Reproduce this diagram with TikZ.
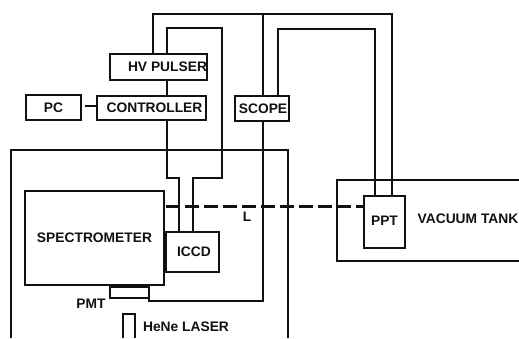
\documentclass[tikz,border=0pt]{standalone}
\usepackage{fontspec}
\setmainfont{Liberation Sans}
\tikzset{
  box/.style={draw=ink,line width=2.4pt,fill=none,inner sep=0pt,font=\bfseries\fontsize{13.8}{15}\selectfont,text=ink},
  wire/.style={draw=ink,line width=2.4pt,line join=miter},
  lbl/.style={inner sep=0pt,font=\bfseries\fontsize{13.8}{15}\selectfont,text=ink},
  beam/.style={draw=ink,line width=3pt,dash pattern=on 14pt off 5pt}
}
\definecolor{ink}{HTML}{111111}
\begin{document}
\begin{tikzpicture}[x=1pt,y=-1pt]
\useasboundingbox[fill=white] (0,0) rectangle (519,338);
% boxes
\node[box,minimum width=95pt,minimum height=26pt] (hv) at (158.5,67) {\hspace*{18pt}HV PULSER};
\node[box,minimum width=109pt,minimum height=24pt] (ctrl) at (151.5,108) {\hspace*{6pt}\raisebox{-1pt}{CONTROLLER}};
\node[box,minimum width=55pt,minimum height=25pt] (pc) at (53.5,107.5) {\raisebox{-1pt}{PC}};
\node[box,minimum width=54pt,minimum height=25pt] (scope) at (262,108.5) {\hspace*{2pt}\raisebox{-1pt}{SCOPE}};
\node[box,minimum width=139pt,minimum height=94pt] (spec) at (94.5,238) {SPECTROMETER};
\node[box,minimum width=53pt,minimum height=40pt] (iccd) at (192.5,252) {\hspace*{3pt}\raisebox{-1pt}{ICCD}};
\node[box,minimum width=39pt,minimum height=11pt] (pmt) at (129.5,292.5) {};
\node[box,minimum width=41pt,minimum height=52pt] (ppt) at (384.5,222) {\raisebox{3pt}{PPT}};
% labels
\node[lbl] (pmtl) at (91,304) {PMT};
\node[lbl] (laserl) at (186,327) {HeNe LASER};
\node[lbl] (vacl) at (468,219) {VACUUM TANK};
\node[lbl] (ll) at (247,217) {L};
% named anchors
\coordinate (hvA) at (153,54);
\coordinate (hvB) at (167,54);
\coordinate (hvC) at (167,80);
\coordinate (ctC) at (167,96);
\coordinate (ctD) at (167,120);
\coordinate (n1) at (153,14);
\coordinate (n2) at (392,14);
\coordinate (pptR) at (392,196);
\coordinate (n3) at (167,28);
\coordinate (n4) at (222,28);
\coordinate (n5) at (222,178);
\coordinate (n6) at (193,178);
\coordinate (iR) at (193,232);
\coordinate (n7) at (167,178);
\coordinate (n8) at (179,178);
\coordinate (iL) at (179,232);
\coordinate (sA) at (263,96);
\coordinate (sB) at (263,14);
\coordinate (sC) at (278,96);
\coordinate (sD) at (278,29);
\coordinate (sE) at (375,29);
\coordinate (pptL) at (375,196);
\coordinate (sF) at (263,121);
\coordinate (sG) at (263,301);
\coordinate (sH) at (149,301);
\coordinate (pmtR) at (149,292);
\coordinate (eA) at (288,338);
\coordinate (eB) at (288,150);
\coordinate (eC) at (11,150);
\coordinate (eD) at (11,338);
\coordinate (tA) at (519,180);
\coordinate (tB) at (337,180);
\coordinate (tC) at (337,261);
\coordinate (tD) at (519,261);
\coordinate (lA) at (123,338);
\coordinate (lB) at (123,314);
\coordinate (lC) at (135,314);
\coordinate (lD) at (135,338);
\coordinate (bA) at (166,206);
\coordinate (bB) at (364,206);
\coordinate (pcR) at (85,106);
% connectors
\draw[wire] (pcR) -- (ctrl.west |- pcR);
\draw[wire] (hvA) -- (n1) -- (n2) -- (pptR);
\draw[wire] (hvB) -- (n3) -- (n4) -- (n5) -- (n6) -- (iR);
\draw[wire] (hvC) -- (ctC);
\draw[wire] (ctD) -- (n7) -- (n8) -- (iL);
\draw[wire] (sA) -- (sB);
\draw[wire] (sC) -- (sD) -- (sE) -- (pptL);
\draw[wire] (sF) -- (sG) -- (sH) -- (pmtR);
\draw[wire] (eA) -- (eB) -- (eC) -- (eD);
\draw[wire] (tA) -- (tB) -- (tC) -- (tD);
\draw[wire] (lA) -- (lB) -- (lC) -- (lD);
\draw[beam] (bA) -- (bB);
\draw[draw=ink,line width=3.5pt] (spec.north east |- iccd.north) -- (spec.south east |- iccd.south);
\end{tikzpicture}
\end{document}
